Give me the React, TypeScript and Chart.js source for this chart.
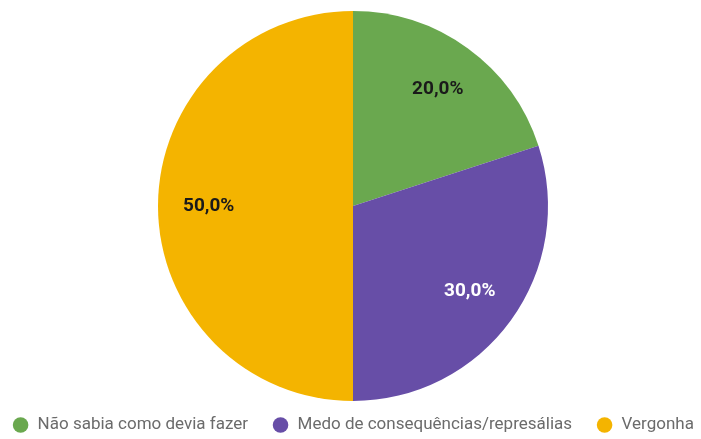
import React, { useEffect, useRef } from "react";
import { Chart, registerables } from "chart.js";

Chart.register(...registerables);

const categories = [
  "Não sabia como devia fazer",
  "Medo de consequências/represálias",
  "Vergonha",
];
const values = [20, 30, 50];
const sliceColors = ["#6aa84f", "#674ea7", "#f4b400"];
const labelColors = ["#1a1a1a", "#ffffff", "#1a1a1a"];

// shift the plotting area slightly right (pie centre sits at x≈353 in the reference)
const areaShift = {
  id: "areaShift",
  afterLayout(chart: any) {
    const a = chart.chartArea;
    a.left += 5;
    a.width -= 5;
  },
};

const pctLabels = {
  id: "pctLabels",
  afterDatasetsDraw(chart: any) {
    const ctx = chart.ctx;
    const meta = chart.getDatasetMeta(0);
    const data = chart.data.datasets[0].data as number[];
    const total = data.reduce((a, b) => a + b, 0);
    ctx.save();
    ctx.font = "bold 19px Roboto";
    ctx.textAlign = "center";
    ctx.textBaseline = "middle";
    meta.data.forEach((arc: any, i: number) => {
      const { x, y, startAngle, endAngle, outerRadius } = arc.getProps(
        ["x", "y", "startAngle", "endAngle", "outerRadius"],
        true
      );
      const mid = (startAngle + endAngle) / 2;
      const r = outerRadius * 0.74;
      ctx.fillStyle = labelColors[i];
      const txt = ((data[i] / total) * 100).toFixed(1).replace(".", ",") + "%";
      ctx.fillText(txt, x + Math.cos(mid) * r, y + Math.sin(mid) * r);
    });
    ctx.restore();
  },
};

export default function App() {
  const ref = useRef<HTMLCanvasElement | null>(null);
  useEffect(() => {
    if (!ref.current) return;
    const chart = new Chart(ref.current, {
      type: "pie",
      data: {
        labels: categories,
        datasets: [
          {
            data: values,
            backgroundColor: sliceColors,
            borderWidth: 0,
            clip: false as any,
          },
        ],
      },
      options: {
        responsive: false,
        animation: false,
        radius: 195,
        layout: { padding: { top: 19.5, bottom: -4.5, left: -20, right: -25 } },
        plugins: {
          tooltip: { enabled: false },
          legend: {
            position: "bottom",
            labels: {
              usePointStyle: true,
              pointStyle: "circle",
              boxWidth: 17,
              boxHeight: 11,
              padding: 24,
              color: "#6b6b6b",
              font: { family: "Roboto", size: 17 },
            },
          },
        },
      } as any,
      plugins: [areaShift, pctLabels],
    });
    return () => chart.destroy();
  }, []);
  return (
    <div style={{ position: "fixed", left: 0, top: 0, width: 701, height: 439, background: "#fff" }}>
      <canvas ref={ref} width={701} height={439} style={{ display: "block" }} />
    </div>
  );
}
